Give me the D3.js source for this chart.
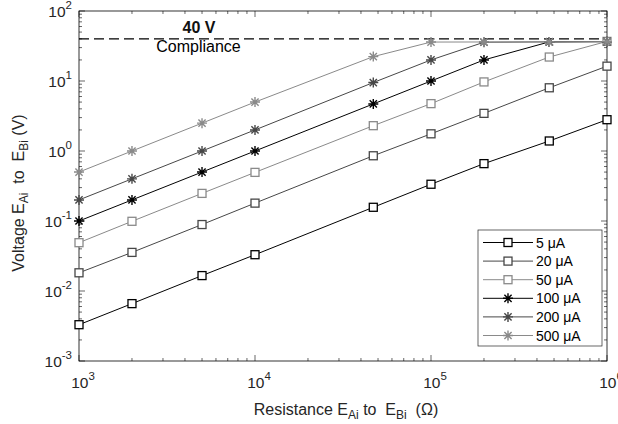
<!DOCTYPE html>
<html><head><meta charset="utf-8">
<script src="https://cdn.jsdelivr.net/npm/d3@7"></script>
<style>body{margin:0;background:#fff}svg{display:block;font-family:"Liberation Sans",Arial,sans-serif}text{white-space:pre}</style>
</head><body><svg id="c" width="618" height="424"></svg>
<script>
const resistance = [1e3, 2e3, 5e3, 1e4, 4.7e4, 1e5, 2e5, 4.7e5, 1e6];
const seriesNames = ["5 μA", "20 μA", "50 μA", "100 μA", "200 μA", "500 μA"];
const v5   = [0.0033, 0.0066, 0.0166, 0.033, 0.157, 0.335, 0.66, 1.39, 2.8];
const v20  = [0.0182, 0.0356, 0.089, 0.18, 0.855, 1.76, 3.45, 8.0, 16.3];
const v50  = [0.049, 0.099, 0.248, 0.495, 2.3, 4.75, 9.7, 22.0, 36.8];
const v100 = [0.1, 0.2, 0.5, 1.0, 4.7, 10.0, 20.0, 36.2, 36.5];
const v200 = [0.2, 0.4, 1.0, 2.0, 9.5, 20.0, 35.8, 36.2, 36.5];
const v500 = [0.5, 1.0, 2.5, 5.0, 22.3, 36.0, 36.1, 36.2, 36.5];
const seriesValues = [v5, v20, v50, v100, v200, v500];
const seriesColors = ["#000000", "#474747", "#8a8a8a", "#000000", "#474747", "#8a8a8a"];
const seriesMarkers = ["square", "square", "square", "star", "star", "star"];
const compliance = 40;
const xTickExps = [3, 4, 5, 6];
const yTickExps = [-3, -2, -1, 0, 1, 2];

const svg = d3.select("#c");
const L = 79, R = 607, T = 11, B = 361;
const x = d3.scaleLog().domain([1e3, 1e6]).range([L, R]);
const y = d3.scaleLog().domain([1e-3, 1e2]).range([B, T]);

function minorVals(lo, hi) {
  const out = [];
  for (let e = lo; e < hi; e++) for (let m = 2; m <= 9; m++) out.push(m * Math.pow(10, e));
  return out;
}
const g = svg.append("g");
const tickStroke = "#000";
minorVals(3, 6).forEach(v => {
  const px = x(v);
  g.append("line").attr("x1", px).attr("x2", px).attr("y1", B).attr("y2", B - 3).attr("stroke", tickStroke).attr("stroke-width", 0.6);
  g.append("line").attr("x1", px).attr("x2", px).attr("y1", T).attr("y2", T + 3).attr("stroke", tickStroke).attr("stroke-width", 0.6);
});
xTickExps.forEach(e => {
  const px = x(Math.pow(10, e));
  g.append("line").attr("x1", px).attr("x2", px).attr("y1", B).attr("y2", B - 6).attr("stroke", tickStroke).attr("stroke-width", 0.6);
  g.append("line").attr("x1", px).attr("x2", px).attr("y1", T).attr("y2", T + 6).attr("stroke", tickStroke).attr("stroke-width", 0.6);
  const t = g.append("text").attr("x", px + 4).attr("y", B + 27).attr("text-anchor", "middle").attr("font-size", 15.5).attr("fill", "#262626");
  t.append("tspan").text("10");
  t.append("tspan").attr("dy", -8).attr("font-size", 11.5).text(e);
});
minorVals(-3, 2).forEach(v => {
  const py = y(v);
  g.append("line").attr("x1", L).attr("x2", L + 3).attr("y1", py).attr("y2", py).attr("stroke", tickStroke).attr("stroke-width", 0.6);
  g.append("line").attr("x1", R).attr("x2", R - 3).attr("y1", py).attr("y2", py).attr("stroke", tickStroke).attr("stroke-width", 0.6);
});
yTickExps.forEach(e => {
  const py = y(Math.pow(10, e));
  g.append("line").attr("x1", L).attr("x2", L + 6).attr("y1", py).attr("y2", py).attr("stroke", tickStroke).attr("stroke-width", 0.6);
  g.append("line").attr("x1", R).attr("x2", R - 6).attr("y1", py).attr("y2", py).attr("stroke", tickStroke).attr("stroke-width", 0.6);
  const t = g.append("text").attr("x", L - 7).attr("y", py + 6).attr("text-anchor", "end").attr("font-size", 15.5).attr("fill", "#262626");
  t.append("tspan").text("10");
  t.append("tspan").attr("dy", -8).attr("font-size", 11.5).text(e);
});
g.append("rect").attr("x", L).attr("y", T).attr("width", R - L).attr("height", B - T)
  .attr("fill", "none").attr("stroke", "#000").attr("stroke-width", 0.8);

// compliance
svg.append("line").attr("x1", L).attr("x2", R).attr("y1", y(compliance)).attr("y2", y(compliance))
  .attr("stroke", "#000").attr("stroke-width", 1.1).attr("stroke-dasharray", "10,5");
svg.append("text").attr("x", 199).attr("y", 33).attr("text-anchor", "middle").attr("font-size", 16).attr("font-weight", "bold").attr("fill", "#111").text(compliance + " V");
svg.append("text").attr("x", 198.5).attr("y", 52).attr("text-anchor", "middle").attr("font-size", 16).text("Compliance");

// series
const line = d3.line().x(d => x(d[0])).y(d => y(d[1]));
function drawMarker(sel, type, cx, cy, color) {
  if (type === "square") {
    sel.append("rect").attr("x", cx - 4).attr("y", cy - 4).attr("width", 8).attr("height", 8)
      .attr("fill", "#fff").attr("stroke", color).attr("stroke-width", 1.3);
  } else {
    const r = 5, d = 3.6;
    const p = `M${cx - r},${cy}L${cx + r},${cy}M${cx},${cy - r}L${cx},${cy + r}M${cx - d},${cy - d}L${cx + d},${cy + d}M${cx - d},${cy + d}L${cx + d},${cy - d}`;
    sel.append("path").attr("d", p).attr("stroke", color).attr("stroke-width", 1.4).attr("fill", "none");
  }
}
seriesValues.forEach((vals, i) => {
  const data = resistance.map((r, j) => [r, vals[j]]);
  svg.append("path").datum(data).attr("d", line).attr("fill", "none").attr("stroke", seriesColors[i]).attr("stroke-width", 1);
  const mg = svg.append("g");
  data.forEach(d => drawMarker(mg, seriesMarkers[i], x(d[0]), y(d[1]), seriesColors[i]));
});

// legend
const lg = svg.append("g");
lg.append("rect").attr("x", 478).attr("y", 230).attr("width", 124).attr("height", 116)
  .attr("fill", "#fff").attr("stroke", "#262626").attr("stroke-width", 0.7);
seriesNames.forEach((n, i) => {
  const ly = 242.5 + i * 18.6;
  lg.append("line").attr("x1", 483).attr("x2", 533).attr("y1", ly).attr("y2", ly).attr("stroke", seriesColors[i]).attr("stroke-width", 1);
  drawMarker(lg, seriesMarkers[i], 508, ly, seriesColors[i]);
  lg.append("text").attr("x", 536).attr("y", ly + 5).attr("font-size", 14).attr("fill", "#000").text(n);
});

// axis labels
const xl = svg.append("text").attr("x", 346).attr("y", 415).attr("text-anchor", "middle").attr("font-size", 16).attr("fill", "#262626");
xl.append("tspan").text("Resistance E");
xl.append("tspan").attr("dy", 4).attr("font-size", 12).text("Ai");
xl.append("tspan").attr("dy", -4).text(" to\u00a0\u00a0E");
xl.append("tspan").attr("dy", 4).attr("font-size", 12).text("Bi");
xl.append("tspan").attr("dy", -4).text("\u00a0\u00a0(Ω)");

const yl = svg.append("text").attr("transform", `translate(24,193) rotate(-90)`).attr("text-anchor", "middle").attr("font-size", 16).attr("fill", "#262626");
yl.append("tspan").text("Voltage E");
yl.append("tspan").attr("dy", 4).attr("font-size", 12).text("Ai");
yl.append("tspan").attr("dy", -4).text("\u00a0\u00a0to\u00a0\u00a0E");
yl.append("tspan").attr("dy", 4).attr("font-size", 12).text("Bi");
yl.append("tspan").attr("dy", -4).text(" (V)");
</script></body></html>
